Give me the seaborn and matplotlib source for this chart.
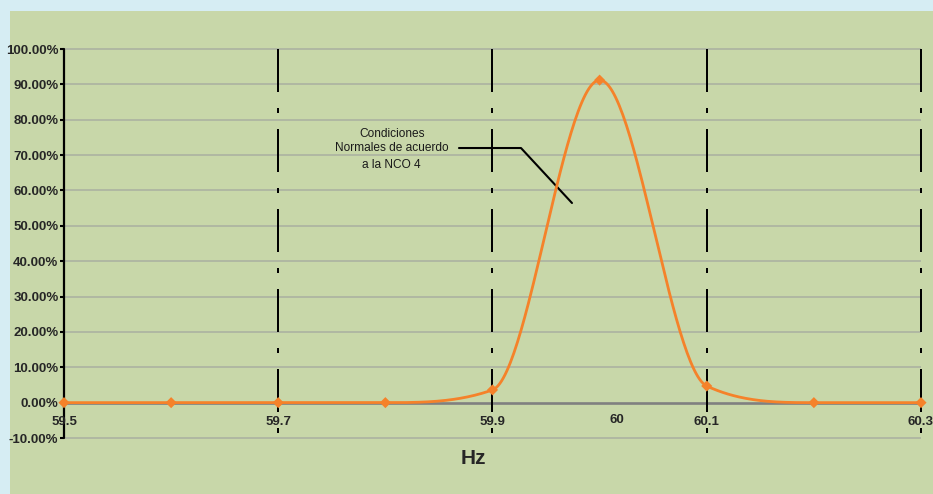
import numpy as np
import pandas as pd
import matplotlib
matplotlib.use("Agg")
import matplotlib.pyplot as plt
import seaborn as sns
from matplotlib import font_manager
from matplotlib.patches import Rectangle

# ---------------- data ----------------
freq = [59.5, 59.6, 59.7, 59.8, 59.9, 60.0, 60.1, 60.2, 60.3]
share = [0.0, 0.0, 0.0, 0.0, 0.036, 0.912, 0.047, 0.0, 0.0]
y_ticks = [-0.1, 0.0, 0.1, 0.2, 0.3, 0.4, 0.5, 0.6, 0.7, 0.8, 0.9, 1.0]
x_label_pos = [59.5, 59.7, 59.9, 60.0, 60.1, 60.3]
x_label_txt = ["59.5", "59.7", "59.9", "60", "60.1", "60.3"]
v_lines = [59.7, 59.9, 60.1, 60.3]
note_lines = ["Condiciones", "Normales de acuerdo", "a la NCO 4"]

# ---------------- smoothing (monotone-limited cubic hermite) ----------------
def smooth(xs, ys, n=60):
    xs = np.asarray(xs, float); ys = np.asarray(ys, float)
    h = np.diff(xs)
    sec = np.diff(ys) / h
    m = np.zeros_like(ys)
    for i in range(1, len(ys) - 1):
        cr = (ys[i + 1] - ys[i - 1]) / (xs[i + 1] - xs[i - 1])
        a, b = sec[i - 1], sec[i]
        if a * b < 0:
            m[i] = cr
            continue
        lim = 3 * min(abs(a), abs(b))
        m[i] = np.sign(cr) * min(abs(cr), lim)
    px, py = [], []
    for i in range(len(xs) - 1):
        t = np.linspace(0, 1, n, endpoint=(i == len(xs) - 2))
        h00 = 2 * t**3 - 3 * t**2 + 1
        h10 = t**3 - 2 * t**2 + t
        h01 = -2 * t**3 + 3 * t**2
        h11 = t**3 - t**2
        px.append(xs[i] + t * h[i])
        py.append(h00 * ys[i] + h10 * h[i] * m[i] + h01 * ys[i + 1] + h11 * h[i] * m[i + 1])
    return np.concatenate(px), np.concatenate(py)

sx, sy = smooth(freq, share)
curve = pd.DataFrame({"x": sx, "y": sy})
pts = pd.DataFrame({"x": freq, "y": share})

# ---------------- fonts ----------------
names = {f.name for f in font_manager.fontManager.ttflist}
narrow = "Liberation Sans Narrow" if "Liberation Sans Narrow" in names else "Liberation Sans"
lab_size = 11 if narrow == "Liberation Sans Narrow" else 9.5

sns.set_style("white")
plt.rcParams["font.family"] = ["Liberation Sans", "DejaVu Sans"]

W, H = 933, 494
fig = plt.figure(figsize=(W / 100, H / 100), dpi=100)
fig.patch.set_facecolor("#D6EDF3")
fig.add_artist(Rectangle((10 / W, 0), (W - 10) / W, 1 - 11 / H, transform=fig.transFigure,
                         facecolor="#C8D7A9", edgecolor="none", zorder=0))

ax = fig.add_axes([64 / W, 1 - 438 / H, (921 - 64) / W, 389 / H])
ax.set_facecolor("none")
ax.set_xlim(59.5, 60.3)
ax.set_ylim(-0.1, 1.0)
for s in ax.spines.values():
    s.set_visible(False)

# gridlines
for yt in y_ticks:
    if yt == 0.0:
        ax.hlines(yt, 59.5, 60.3, color="#808080", lw=1.9, zorder=1, clip_on=False)
    else:
        ax.hlines(yt, 59.5, 60.3, color="#A9AFA0", lw=1.1, zorder=1, clip_on=False)

# vertical dash-dot lines (drawn top to bottom so the pattern starts at 100%)
for xv in v_lines:
    ax.plot([xv, xv], [1.0, -0.1], color="black", lw=1.44, zorder=2, clip_on=False,
            linestyle=(0, (21.5, 8, 2.5, 8)), solid_capstyle="butt", dash_capstyle="butt")
# left axis line
ax.plot([59.5, 59.5], [1.0, -0.1], color="black", lw=1.6, zorder=2, clip_on=False)

# curve + markers
sns.lineplot(data=curve, x="x", y="y", ax=ax, color="#F5822A", lw=2.0, sort=False,
             zorder=4, clip_on=False)
sns.scatterplot(data=pts, x="x", y="y", ax=ax, color="#F5822A", marker="D", s=32,
                edgecolor="none", zorder=5, clip_on=False)

# y ticks
ax.set_yticks(y_ticks)
ax.set_yticklabels([f"{v*100:.2f}%" for v in y_ticks], fontfamily=narrow,
                   fontweight="bold", fontsize=lab_size)
ax.tick_params(axis="y", left=True, length=3, width=1.5, color="black", pad=1)
ax.set_xticks([])
ax.set_xlabel("")
ax.set_ylabel("")

# x labels inside axes
for xp, xt in zip(x_label_pos, x_label_txt):
    yy = -0.05 if xt == "60" else -0.055
    xx = 60.016 if xt == "60" else xp
    ax.text(xx, yy, xt, ha="center", va="center", fontfamily=narrow, fontweight="bold",
            fontsize=lab_size, zorder=6)

fig.text(473 / W, 1 - 458 / H, "Hz", ha="center", va="center", fontfamily=narrow,
         fontweight="bold", fontsize=15)

# annotation
ax.text(59.806, 0.759, note_lines[0], ha="center", va="center", fontsize=8.6, color="#1a1a1a")
ax.text(59.806, 0.720, note_lines[1], ha="center", va="center", fontsize=8.6, color="#1a1a1a")
ax.text(59.806, 0.672, note_lines[2], ha="center", va="center", fontsize=8.6, color="#1a1a1a")
ax.plot([59.8687, 59.9266, 59.9742], [0.720, 0.720, 0.5645], color="black", lw=1.5, zorder=3)

fig.savefig("out.png", dpi=100, facecolor=fig.get_facecolor())
